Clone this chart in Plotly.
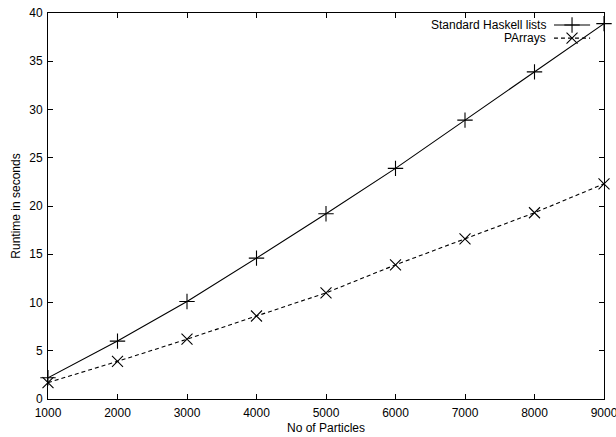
import plotly.graph_objects as go

particles = [1000, 2000, 3000, 4000, 5000, 6000, 7000, 8000, 9000]
standard_lists = [2.2, 6.0, 10.1, 14.6, 19.2, 23.9, 28.9, 33.9, 38.9]
parrays = [1.7, 3.9, 6.2, 8.6, 11.0, 13.9, 16.6, 19.3, 22.3]
series_names = ["Standard Haskell lists", "PArrays"]

x_ticks = [1000, 2000, 3000, 4000, 5000, 6000, 7000, 8000, 9000]
y_ticks = [0, 5, 10, 15, 20, 25, 30, 35, 40]

FONT = "Liberation Sans, Arial, Helvetica, sans-serif"
FS = 12

fig = go.Figure()
fig.add_trace(go.Scatter(
    x=particles, y=standard_lists, mode="lines+markers", name=series_names[0],
    line=dict(color="black", width=1.1),
    marker=dict(symbol="cross-thin", size=11, line=dict(color="black", width=1.1)),
    showlegend=False, cliponaxis=False))
fig.add_trace(go.Scatter(
    x=particles, y=parrays, mode="lines+markers", name=series_names[1],
    line=dict(color="black", width=1.1, dash="4px,3px"),
    marker=dict(symbol="x-thin", size=11, line=dict(color="black", width=1.1)),
    showlegend=False, cliponaxis=False))

# legend keys on an overlay axis (0..1)
leg_y = [0.969, 0.935]
fig.add_trace(go.Scatter(x=[0.91, 0.975], y=[leg_y[0]] * 2, xaxis="x2", yaxis="y2",
                         mode="lines", line=dict(color="black", width=1.1),
                         showlegend=False, hoverinfo="skip"))
fig.add_trace(go.Scatter(x=[0.9425], y=[leg_y[0]], xaxis="x2", yaxis="y2",
                         mode="markers",
                         marker=dict(symbol="cross-thin", size=11, line=dict(color="black", width=1.1)),
                         showlegend=False, hoverinfo="skip"))
fig.add_trace(go.Scatter(x=[0.91, 0.975], y=[leg_y[1]] * 2, xaxis="x2", yaxis="y2",
                         mode="lines", line=dict(color="black", width=1.1, dash="4px,3px"),
                         showlegend=False, hoverinfo="skip"))
fig.add_trace(go.Scatter(x=[0.9425], y=[leg_y[1]], xaxis="x2", yaxis="y2",
                         mode="markers",
                         marker=dict(symbol="x-thin", size=11, line=dict(color="black", width=1.1)),
                         showlegend=False, hoverinfo="skip"))

for name, yy in zip(series_names, leg_y):
    fig.add_annotation(x=0.8995, y=yy, xref="x2", yref="y2", text=name, showarrow=False,
                       xanchor="right", yanchor="middle", font=dict(size=FS, color="black", family=FONT))

axis_common = dict(showgrid=False, zeroline=False, showline=True, linecolor="black", linewidth=1,
                   mirror="ticks", ticks="inside", ticklen=5, tickcolor="black", tickwidth=1,
                   automargin=False, ticklabeloverflow="allow",
                   tickfont=dict(size=FS, color="black", family=FONT))

fig.update_layout(
    width=616, height=437,
    margin=dict(l=48, r=12, t=13, b=38),
    paper_bgcolor="white", plot_bgcolor="white",
    font=dict(family=FONT, size=FS, color="black"),
    xaxis=dict(range=[1000, 9000], tickvals=x_ticks, ticktext=[str(v) for v in x_ticks],
               ticklabelstandoff=3,
               title=dict(text="No of Particles", standoff=4, font=dict(size=FS)), **axis_common),
    yaxis=dict(range=[0, 40], tickvals=y_ticks, ticktext=[str(v) for v in y_ticks],
               ticklabelstandoff=2,
               title=dict(text="Runtime in seconds", standoff=6, font=dict(size=FS)), **axis_common),
    xaxis2=dict(range=[0, 1], overlaying="x", visible=False, anchor="y2"),
    yaxis2=dict(range=[0, 1], overlaying="y", visible=False, anchor="x2"),
    showlegend=False,
)

fig.write_html("out.html")
